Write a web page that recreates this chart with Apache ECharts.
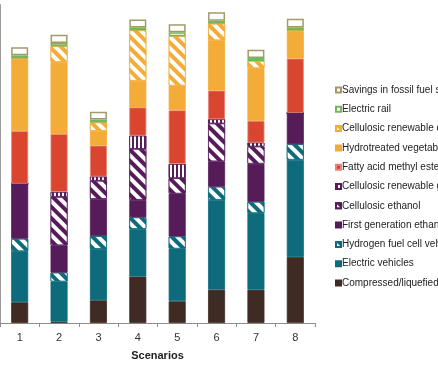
<!DOCTYPE html>
<html>
<head>
<meta charset="utf-8">
<script src="https://cdn.jsdelivr.net/npm/echarts@6/dist/echarts.min.js"></script>
<style>
html,body{margin:0;padding:0;background:#fff;}
#chart{width:438px;height:366px;}
</style>
</head>
<body>
<div id="chart"></div>
<script>
const scenarios = ['1', '2', '3', '4', '5', '6', '7', '8'];
// stacked segment sizes (bottom to top)
const compressedGas      = [21, 1.3, 23, 47, 22, 33.7, 33.7, 67];
const electricVehicles   = [51.7, 40.7, 52, 48.3, 53.3, 91, 77.6, 98.3];
const hydrogenFuelCell   = [12.6, 9, 13, 11.7, 12.4, 13.3, 11.4, 15.7];
const firstGenEthanol    = [55.7, 27.7, 37.6, 17.7, 43.3, 25.7, 38.6, 31.7];
const cellulosicEthanol  = [0, 49, 18.4, 51.6, 15.7, 38.3, 17.4, 0];
const cellulosicGasoline = [0, 5, 4.3, 13.4, 14.3, 4.3, 4, 0];
const fattyAcidME        = [53.3, 58.6, 31.3, 28.6, 54.4, 29, 22, 55];
const hydrotreatedVO     = [72.7, 73, 15, 27, 25, 51, 53.3, 27.6];
const cellulosicDiesel   = [1, 16, 8.4, 51, 50, 16.7, 7.3, 1];
const electricRail       = [3, 3.2, 3, 3, 4, 3, 3, 3];
const fossilSavings      = [8.3, 8.5, 8, 8, 8, 8.7, 8.5, 8.7];

const names = {
  cng: 'Compressed/liquefied natural gas',
  ev: 'Electric vehicles',
  h2: 'Hydrogen fuel cell vehicles',
  fge: 'First generation ethanol',
  ce: 'Cellulosic ethanol',
  crg: 'Cellulosic renewable gasoline',
  fame: 'Fatty acid methyl ester',
  hvo: 'Hydrotreated vegetable oil',
  crd: 'Cellulosic renewable diesel',
  rail: 'Electric rail',
  sav: 'Savings in fossil fuel supply'
};

const diag = {symbol: 'rect', color: '#ffffff', dashArrayX: [1, 0], dashArrayY: [3.5, 3.5], rotation: Math.PI / 4};
const vert = {symbol: 'rect', color: '#ffffff', dashArrayX: [1, 0], dashArrayY: [2, 1.5], rotation: Math.PI / 2};

function mk(name, data, color, extra) {
  return {
    name: name, type: 'bar', stack: 'total', barWidth: 17,
    data: data,
    itemStyle: Object.assign({color: color, borderColor: color, borderWidth: 0.8}, extra || {})
  };
}

const series = [
  mk(names.cng, compressedGas, '#3f2b23'),
  mk(names.ev, electricVehicles, '#0d6b7b'),
  mk(names.h2, hydrogenFuelCell, '#0d6b7b', {decal: diag}),
  mk(names.fge, firstGenEthanol, '#561c5a'),
  mk(names.ce, cellulosicEthanol, '#561c5a', {decal: diag}),
  mk(names.crg, cellulosicGasoline, '#561c5a', {decal: vert}),
  mk(names.fame, fattyAcidME, '#d9452f', {borderColor: '#e6857a'}),
  mk(names.hvo, hydrotreatedVO, '#f4ac38'),
  mk(names.crd, cellulosicDiesel, '#f4ac38', {decal: diag}),
  mk(names.rail, electricRail, '#ffffff', {borderColor: '#78b45a', borderWidth: 1.5}),
  mk(names.sav, fossilSavings, '#ffffff', {borderColor: '#a39a6a', borderWidth: 1.5})
];

const chart = echarts.init(document.getElementById('chart'), null, {renderer: 'canvas'});
chart.setOption({
  animation: false,
  backgroundColor: '#ffffff',
  grid: {left: 0, top: 5, width: 315, height: 322, containLabel: false},
  legend: {
    orient: 'vertical', left: 335, top: 85, padding: 0,
    icon: 'rect',
    itemWidth: 5, itemHeight: 5, itemGap: 9.3,
    textStyle: {fontFamily: 'Liberation Sans, Arial', fontSize: 10, color: '#222', padding: [0, 0, 0, -4]},
    data: [names.sav, names.rail, names.crd, names.hvo, names.fame, names.crg, names.ce, names.fge, names.h2, names.ev, names.cng]
  },
  xAxis: {
    type: 'category', data: scenarios,
    axisLine: {lineStyle: {color: '#8c8c8c', width: 1}},
    axisTick: {show: true, length: 4, lineStyle: {color: '#8c8c8c'}},
    axisLabel: {fontFamily: 'Liberation Sans, Arial', fontSize: 11, color: '#333', margin: 9},
    name: 'Scenarios', nameLocation: 'middle', nameGap: 27,
    nameTextStyle: {fontFamily: 'Liberation Sans, Arial', fontSize: 11, fontWeight: 'bold', color: '#222'}
  },
  yAxis: {
    type: 'value', min: 0, max: 322,
    axisLine: {show: true, lineStyle: {color: '#9a9a9a', width: 2}},
    axisTick: {show: false}, axisLabel: {show: false}, splitLine: {show: false}
  },
  series: series
});
</script>
</body>
</html>
